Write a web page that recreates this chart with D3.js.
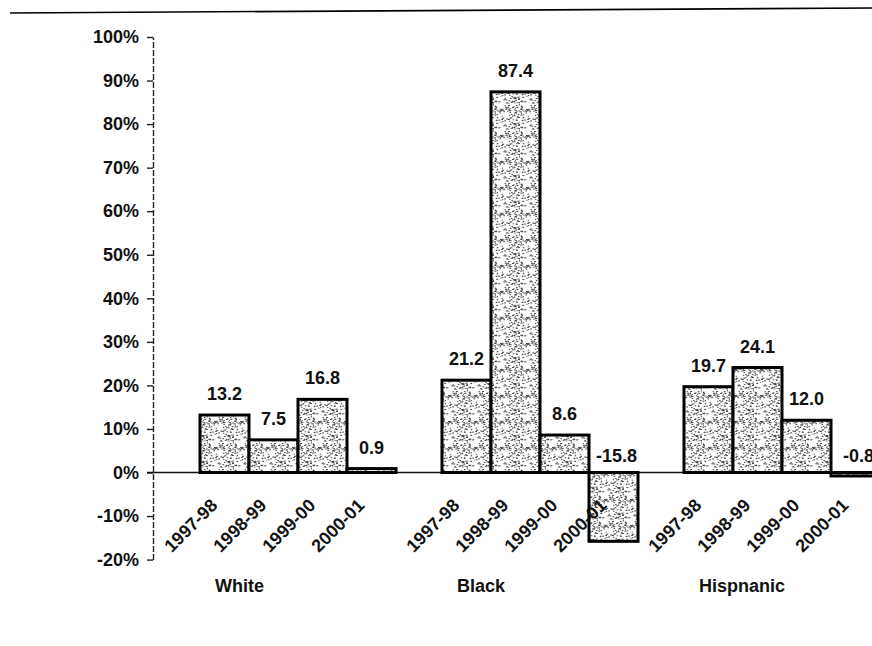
<!DOCTYPE html>
<html>
<head>
<meta charset="utf-8">
<script src="https://cdn.jsdelivr.net/npm/d3@7"></script>
<style>
    html, body { margin: 0; padding: 0; background: #fff; }
    svg text { font-family: 'Liberation Sans', Arial, sans-serif; font-weight: bold; fill: #111; }
</style>
</head>
<body>
<svg id="chart" width="872" height="646"></svg>
<script>
var groups = ['White', 'Black', 'Hispnanic'];
var years = ['1997-98', '1998-99', '1999-00', '2000-01'];
var whiteValues = [13.2, 7.5, 16.8, 0.9];
var blackValues = [21.2, 87.4, 8.6, -15.8];
var hispanicValues = [19.7, 24.1, 12.0, -0.8];
var yTickValues = [-20, -10, 0, 10, 20, 30, 40, 50, 60, 70, 80, 90, 100];

(function(){
    var svg = d3.select('#chart'),
        width = +svg.attr('width'),
        height = +svg.attr('height');

    var series = [whiteValues, blackValues, hispanicValues];
    var rows = [];
    groups.forEach(function(g, i) {
        years.forEach(function(yr, j) {
            rows.push({ group: g, year: yr, value: series[i][j] });
        });
    });

    var y = d3.scaleLinear()
        .domain([-20, 100])
        .range([559.6, 37]);

    var x0 = d3.scaleBand()
        .domain(groups)
        .range([200, 880])
        .paddingInner(0.19);

    var x1 = d3.scaleBand()
        .domain(years)
        .range([0, x0.bandwidth()]);

    // speckled fill, like the scanned print
    var defs = svg.append('defs');
    var pat = defs.append('pattern')
        .attr('id', 'speckle')
        .attr('patternUnits', 'userSpaceOnUse')
        .attr('width', 26)
        .attr('height', 26);
    pat.append('rect')
        .attr('width', 26)
        .attr('height', 26)
        .attr('fill', '#fff');
    var seed = 7;
    function lcg() {
        seed = (seed * 1103515245 + 12345) % 2147483648;
        return seed / 2147483648;
    }
    for (var k = 0; k < 110; k++) {
        pat.append('rect')
            .attr('x', (lcg() * 26).toFixed(1))
            .attr('y', (lcg() * 26).toFixed(1))
            .attr('width', 1 + lcg() * 1.2)
            .attr('height', 1)
            .attr('fill', '#444');
    }

    // top rule
    svg.append('line')
        .attr('x1', 10).attr('y1', 13)
        .attr('x2', width).attr('y2', 8)
        .attr('stroke', '#000')
        .attr('stroke-width', 1.6);

    // y axis
    var axis = svg.append('g')
        .attr('transform', 'translate(153,0)')
        .call(d3.axisLeft(y)
            .tickValues(yTickValues)
            .tickSize(6)
            .tickSizeOuter(0)
            .tickPadding(8)
            .tickFormat(function(d) { return d + '%'; }));
    axis.select('.domain')
        .attr('stroke', '#222')
        .attr('stroke-width', 1.4)
        .attr('stroke-dasharray', '6,2');
    axis.selectAll('.tick line')
        .attr('stroke', '#222')
        .attr('stroke-width', 1.4);
    axis.selectAll('.tick text')
        .style('font-size', '18px')
        .attr('fill', '#111');

    // zero line
    svg.append('line')
        .attr('x1', 147).attr('x2', width)
        .attr('y1', y(0)).attr('y2', y(0))
        .attr('stroke', '#111')
        .attr('stroke-width', 1.5);

    var bar = svg.append('g')
        .selectAll('rect')
        .data(rows)
        .enter().append('rect')
        .attr('x', function(d) { return x0(d.group) + x1(d.year); })
        .attr('y', function(d) { return y(Math.max(d.value, 0)); })
        .attr('width', x1.bandwidth())
        .attr('height', function(d) { return Math.abs(y(d.value) - y(0)); })
        .attr('fill', 'url(#speckle)')
        .attr('stroke', '#000')
        .attr('stroke-width', 3);

    // plain hyphen for negatives, as in the print
    var fmt = d3.formatLocale({
        decimal: '.', thousands: ',', grouping: [3], currency: ['', ''], minus: '-'
    }).format('.1f');

    svg.append('g')
        .selectAll('text')
        .data(rows)
        .enter().append('text')
        .attr('x', function(d) { return x0(d.group) + x1(d.year) + x1.bandwidth() / 2 + (d.value < 0 ? 3 : 0); })
        .attr('y', function(d) { return d.value < 0 ? y(0) - 11 : y(d.value) - 15; })
        .attr('text-anchor', 'middle')
        .style('font-size', '18px')
        .text(function(d) { return fmt(d.value); });

    // rotated year labels
    svg.append('g')
        .selectAll('text')
        .data(rows)
        .enter().append('text')
        .attr('transform', function(d) {
            var cx = x0(d.group) + x1(d.year) + x1.bandwidth() / 2 - 6;
            return 'translate(' + cx + ',' + (y(0) + 34) + ') rotate(-45)';
        })
        .attr('text-anchor', 'end')
        .style('font-size', '18px')
        .text(function(d) { return d.year; });

    // group labels
    svg.append('g')
        .selectAll('text')
        .data(groups)
        .enter().append('text')
        .attr('x', function(d) { return x0(d) + 15; })
        .attr('y', 592)
        .style('font-size', '18px')
        .text(function(d) { return d; });
})();
</script>
</body>
</html>
